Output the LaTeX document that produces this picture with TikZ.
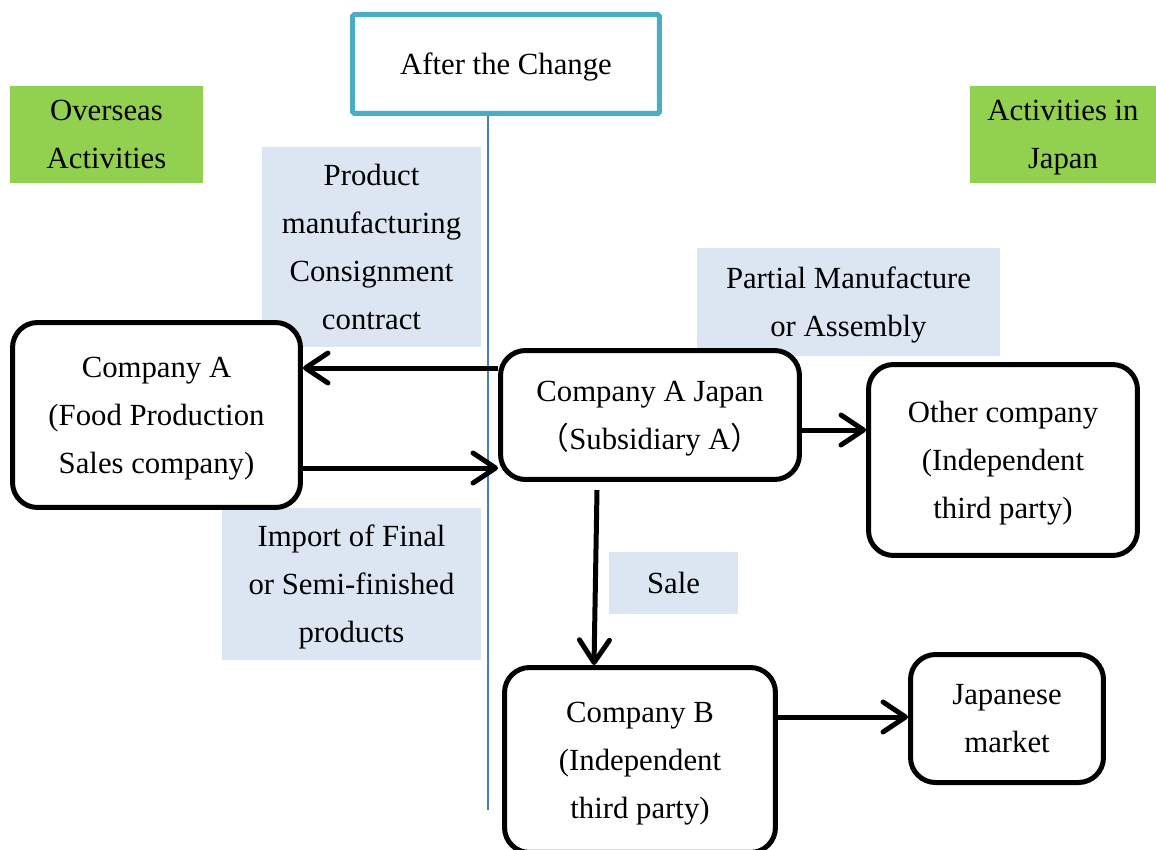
\documentclass[tikz,border=0pt]{standalone}
\usepackage{fontspec}
\setmainfont{Liberation Serif}
\newfontfamily\cjkparen{Noto Sans CJK JP}
\usepackage{tikz}
\usetikzlibrary{arrows.meta}
\definecolor{label-blue}{HTML}{DCE6F2}
\definecolor{region-green}{HTML}{92D050}
\definecolor{title-teal}{HTML}{4BACC6}
\definecolor{split-blue}{HTML}{4A7EBB}
\tikzset{
    company-box/.style = {draw=black, fill=white, line width=0.1cm, rectangle, rounded corners=0.5cm, align=center, inner sep=0pt, text depth=0pt},
    label-box/.style = {fill=label-blue, rectangle, align=center, inner sep=0pt, text depth=0pt},
    region-box/.style = {fill=region-green, rectangle, align=center, inner sep=0pt, text depth=0pt},
    title-box/.style = {draw=title-teal, fill=white, line width=0.1cm, rectangle, rounded corners=1pt, inner sep=0pt, text depth=0pt},
    flow/.style = {line width=0.1cm, -{Straight Barb[length=0.45cm, width=0.6cm, round]}},
}

\begin{document}
\begin{tikzpicture}[x=0.02cm, y=-0.02cm, font=\fontsize{17.5pt}{27.3pt}\selectfont]
\useasboundingbox (0,0) rectangle (1156,849);
\clip (0,0) rectangle (1156,849);
% dividing line and headings
\draw[split-blue, line width=1.2pt] (488,116) -- (488,810);
\node[title-box, minimum width=6.14cm, minimum height=1.98cm] (title) at (506,64) {After the Change};
\node[region-box, minimum width=3.86cm, minimum height=1.94cm] (overseas) at (106.5,134.5) {Overseas\\Activities};
\node[region-box, minimum width=3.72cm, minimum height=1.94cm] (injapan) at (1063,134.5) {Activities in\\Japan};
% flow labels
\node[label-box, minimum width=4.38cm, minimum height=4.0cm] (consign) at (371.5,247) {Product\\manufacturing\\Consignment\\contract};
\node[label-box, minimum width=6.06cm, minimum height=2.16cm] (partial) at (848.5,302) {Partial Manufacture\\or Assembly};
\node[label-box, minimum width=5.18cm, minimum height=3.04cm] (import) at (351.5,584) {Import of Final\\or Semi-finished\\products};
\node[label-box, minimum width=2.58cm, minimum height=1.24cm] (sale) at (673.5,583) {Sale};
% companies
\node[company-box, minimum width=5.76cm, minimum height=3.7cm] (compa) at (156.5,415) {Company A\\(Food Production\\Sales company)};
\node[company-box, minimum width=5.98cm, minimum height=2.58cm] (compajp) at (650,415) {Company A Japan\\{\cjkparen （}Subsidiary A{\cjkparen ）}};
\node[company-box, minimum width=5.38cm, minimum height=3.82cm] (other) at (1003,460) {Other company\\(Independent\\third party)};
\node[company-box, minimum width=5.42cm, minimum height=3.7cm] (compb) at (640,760) {Company B\\(Independent\\third party)};
\node[company-box, minimum width=3.86cm, minimum height=2.56cm] (market) at (1007,718.5) {Japanese\\market};
% connectors
\coordinate (salestart) at (597,490);
\draw[flow] (compajp.west |- 0,368) -- (compa.east |- 0,368);
\draw[flow] (compa.east |- 0,468) -- (compajp.west |- 0,468);
\draw[flow] (compajp.east |- 0,430) -- (other.west |- 0,430);
\draw[flow] (salestart) -- (compb.north -| 594,0);
\draw[flow] (compb.east |- 0,717) -- (market.west |- 0,717);
\end{tikzpicture}
\end{document}
